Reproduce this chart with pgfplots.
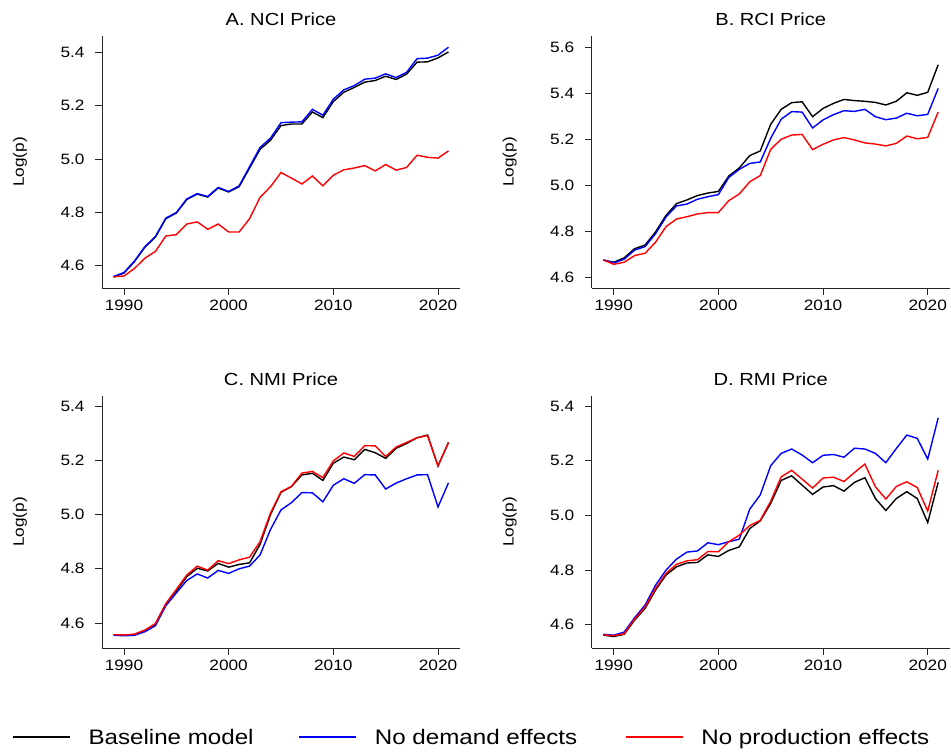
\documentclass[border=0pt]{standalone}
\usepackage{fontspec}
\setmainfont{Liberation Sans}[FakeStretch=1.15]
\usepackage{pgfplots}
\usepackage{pgfplotstable}
\pgfplotsset{compat=1.18}

% year, baseline, no demand effects, no production effects
\pgfplotstableread{
year base nodem noprod
1989 4.557 4.559 4.558
1990 4.572 4.574 4.561
1991 4.615 4.617 4.589
1992 4.669 4.671 4.628
1993 4.707 4.709 4.653
1994 4.776 4.778 4.711
1995 4.797 4.799 4.716
1996 4.848 4.850 4.756
1997 4.868 4.870 4.764
1998 4.857 4.859 4.736
1999 4.891 4.893 4.756
2000 4.876 4.878 4.726
2001 4.896 4.899 4.726
2002 4.966 4.971 4.776
2003 5.036 5.043 4.856
2004 5.070 5.078 4.896
2005 5.125 5.136 4.949
2006 5.131 5.138 4.928
2007 5.131 5.139 4.906
2008 5.176 5.186 4.936
2009 5.155 5.164 4.899
2010 5.215 5.224 4.939
2011 5.250 5.259 4.959
2012 5.268 5.275 4.966
2013 5.288 5.299 4.975
2014 5.294 5.303 4.955
2015 5.310 5.319 4.979
2016 5.298 5.305 4.958
2017 5.318 5.325 4.968
2018 5.363 5.376 5.014
2019 5.364 5.378 5.006
2020 5.379 5.389 5.003
2021 5.401 5.419 5.030
}\nci

\pgfplotstableread{
year base nodem noprod
1989 4.674 4.674 4.674
1990 4.664 4.661 4.655
1991 4.683 4.677 4.664
1992 4.723 4.717 4.693
1993 4.739 4.732 4.703
1994 4.796 4.788 4.751
1995 4.868 4.861 4.819
1996 4.919 4.909 4.852
1997 4.935 4.917 4.862
1998 4.954 4.938 4.874
1999 4.965 4.949 4.880
2000 4.972 4.958 4.880
2001 5.039 5.033 4.932
2002 5.074 5.068 4.961
2003 5.128 5.094 5.014
2004 5.148 5.100 5.041
2005 5.264 5.203 5.155
2006 5.329 5.286 5.199
2007 5.358 5.319 5.217
2008 5.362 5.317 5.220
2009 5.297 5.248 5.154
2010 5.333 5.283 5.177
2011 5.355 5.306 5.196
2012 5.372 5.323 5.206
2013 5.367 5.320 5.196
2014 5.364 5.329 5.183
2015 5.359 5.297 5.178
2016 5.348 5.284 5.170
2017 5.364 5.291 5.181
2018 5.401 5.312 5.213
2019 5.390 5.301 5.201
2020 5.403 5.307 5.207
2021 5.523 5.420 5.317
}\rci

\pgfplotstableread{
year base nodem noprod
1989 4.556 4.555 4.557
1990 4.555 4.553 4.556
1991 4.558 4.555 4.559
1992 4.573 4.568 4.574
1993 4.595 4.590 4.598
1994 4.669 4.664 4.672
1995 4.718 4.711 4.724
1996 4.771 4.757 4.777
1997 4.802 4.781 4.810
1998 4.792 4.766 4.795
1999 4.820 4.794 4.830
2000 4.806 4.783 4.819
2001 4.816 4.800 4.833
2002 4.822 4.810 4.843
2003 4.890 4.851 4.900
2004 5.000 4.945 5.006
2005 5.082 5.017 5.084
2006 5.103 5.044 5.104
2007 5.146 5.081 5.153
2008 5.152 5.080 5.159
2009 5.126 5.047 5.136
2010 5.189 5.108 5.198
2011 5.212 5.132 5.227
2012 5.202 5.115 5.214
2013 5.240 5.147 5.254
2014 5.228 5.146 5.253
2015 5.207 5.094 5.214
2016 5.244 5.116 5.249
2017 5.262 5.132 5.266
2018 5.283 5.146 5.283
2019 5.293 5.147 5.291
2020 5.179 5.028 5.179
2021 5.266 5.117 5.266
}\nmi

\pgfplotstableread{
year base nodem noprod
1989 4.562 4.565 4.563
1990 4.557 4.562 4.560
1991 4.565 4.573 4.567
1992 4.617 4.626 4.621
1993 4.660 4.672 4.665
1994 4.727 4.745 4.733
1995 4.782 4.800 4.788
1996 4.812 4.840 4.821
1997 4.826 4.866 4.834
1998 4.828 4.870 4.838
1999 4.856 4.900 4.868
2000 4.850 4.893 4.867
2001 4.872 4.904 4.904
2002 4.885 4.913 4.928
2003 4.952 5.023 4.963
2004 4.980 5.075 4.982
2005 5.044 5.182 5.052
2006 5.128 5.227 5.141
2007 5.145 5.243 5.165
2008 5.111 5.221 5.133
2009 5.077 5.193 5.100
2010 5.104 5.220 5.137
2011 5.109 5.223 5.140
2012 5.089 5.213 5.124
2013 5.121 5.246 5.157
2014 5.138 5.243 5.188
2015 5.062 5.227 5.105
2016 5.018 5.193 5.060
2017 5.062 5.245 5.106
2018 5.087 5.294 5.123
2019 5.062 5.282 5.102
2020 4.974 5.206 5.016
2021 5.121 5.357 5.165
}\rmi

\pgfplotsset{
  panel/.style={
    scale only axis,
    width=358bp, height=252bp,
    xmin=1987.9, xmax=2022.1,
    axis x line*=bottom, axis y line*=left,
    axis line style={line width=0.8bp, black!85},
    tick align=outside,
    major tick length=7bp,
    tick style={line width=0.8bp, black!85},
    xtick={1990,2000,2010,2020},
    ytick={4.6,4.8,5.0,5.2,5.4,5.6},
    /pgf/number format/assume math mode=true,
    xticklabel style={/pgf/number format/1000 sep={}, inner sep=2bp, yshift=-3bp},
    yticklabel style={/pgf/number format/.cd, fixed, fixed zerofill, precision=1, /tikz/.cd, xshift=-7bp},
    tick label style={font=\fontsize{15bp}{18bp}\selectfont},
    ylabel={Log(p)},
    ylabel style={font=\fontsize{15bp}{18bp}\selectfont, at={(axis description cs:-0.229,0.5)}, anchor=center},
    title style={font=\fontsize{17.5bp}{21bp}\selectfont, at={(0.5,1)}, anchor=base, yshift=5bp},
    legend image code/.code={\path (0bp,0bp) (75bp,7.7bp); \draw[##1, line width=1.4bp] (0bp,1bp) -- (57bp,1bp);},
  },
  sbase/.style={black, line width=1.4bp},
  sdem/.style={blue, line width=1.4bp},
  sprod/.style={red, line width=1.4bp},
}

\begin{document}
\begin{tikzpicture}
\useasboundingbox (0,0) rectangle (951bp,755bp);

\begin{axis}[panel, at={(102bp,467bp)}, anchor=south west,
  title={A. NCI Price}, ymin=4.516, ymax=5.461]
\addplot[sbase] table[x=year, y=base] {\nci};
\addplot[sdem] table[x=year, y=nodem] {\nci};
\addplot[sprod] table[x=year, y=noprod] {\nci};
\end{axis}

\begin{axis}[panel, at={(591.7bp,467bp)}, anchor=south west,
  title={B. RCI Price}, ymin=4.552, ymax=5.648]
\addplot[sbase] table[x=year, y=base] {\rci};
\addplot[sdem] table[x=year, y=nodem] {\rci};
\addplot[sprod] table[x=year, y=noprod] {\rci};
\end{axis}

\begin{axis}[panel, at={(102bp,107bp)}, anchor=south west,
  title={C. NMI Price}, ymin=4.508, ymax=5.437,
  legend columns=3,
  legend style={at={(axis description cs:-0.251,-0.357)}, anchor=west,
    draw=none, fill=none, inner sep=0pt, outer sep=0pt,
    /tikz/column sep=0pt, nodes={inner sep=0pt},
    font=\fontsize{21bp}{25bp}\selectfont}]
\addplot[sbase] table[x=year, y=base] {\nmi};
\addlegendentry{\makebox[210bp][l]{Baseline model}}
\addplot[sdem] table[x=year, y=nodem] {\nmi};
\addlegendentry{\makebox[250bp][l]{No demand effects}}
\addplot[sprod] table[x=year, y=noprod] {\nmi};
\addlegendentry{No production effects}
\end{axis}

\begin{axis}[panel, at={(591.7bp,107bp)}, anchor=south west,
  title={D. RMI Price}, ymin=4.515, ymax=5.437]
\addplot[sbase] table[x=year, y=base] {\rmi};
\addplot[sdem] table[x=year, y=nodem] {\rmi};
\addplot[sprod] table[x=year, y=noprod] {\rmi};
\end{axis}
\end{tikzpicture}
\end{document}
